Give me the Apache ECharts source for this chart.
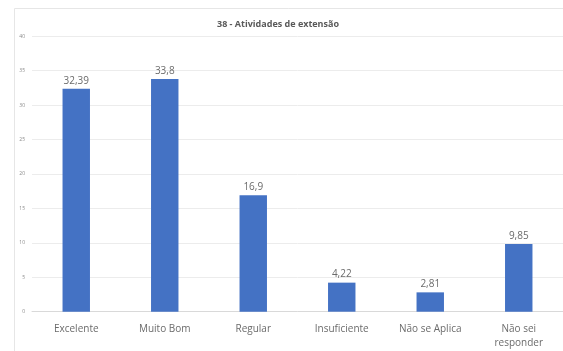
<!DOCTYPE html>
<html><head><meta charset="utf-8">
<script src="https://cdn.jsdelivr.net/npm/echarts@6/dist/echarts.min.js"></script>
<style>html,body{margin:0;padding:0;background:#fff}#c{width:563px;height:351px}</style>
</head><body><div id="c"></div>
<script>
const titleText = '38 - Atividades de extensão';
const categories = ['Excelente', 'Muito Bom', 'Regular', 'Insuficiente', 'Não se Aplica', 'Não sei\nresponder'];
const values = [32.39, 33.8, 16.9, 4.22, 2.81, 9.85];
const yTicks = [0, 5, 10, 15, 20, 25, 30, 35, 40];

const chart = echarts.init(document.getElementById('c'), null, {renderer: 'canvas'});
chart.setOption({
  animation: false,
  backgroundColor: '#fff',
  graphic: [
    {type: 'line', shape: {x1: 14.5, y1: 8.5, x2: 14.5, y2: 351}, style: {stroke: '#e6e6e6', lineWidth: 1}, silent: true},
    {type: 'line', shape: {x1: 14.5, y1: 8.5, x2: 563, y2: 8.5}, style: {stroke: '#e6e6e6', lineWidth: 1}, silent: true}
  ],
  title: {
    text: titleText, left: 273, top: 15, textAlign: 'center',
    textStyle: {fontFamily: 'Open Sans', fontSize: 9, fontWeight: 'bold', color: '#595959'}
  },
  grid: {left: 32, right: -1, top: 36.3, bottom: 351 - 311.7, containLabel: false},
  xAxis: {
    type: 'category', data: categories,
    axisLine: {lineStyle: {color: '#d9d9d9'}}, axisTick: {show: false},
    axisLabel: {fontFamily: 'Open Sans', fontSize: 10, color: '#6b6b6b', margin: 10, lineHeight: 14, interval: 0}
  },
  yAxis: {
    type: 'value', min: 0, max: 40, interval: 5,
    axisLine: {show: false}, axisTick: {show: false},
    splitLine: {lineStyle: {color: '#ececec'}},
    axisLabel: {fontFamily: 'Open Sans', fontSize: 5, color: '#8a8a8a', margin: 7,
      formatter: v => yTicks.includes(v) ? String(v) : ''}
  },
  series: [{
    type: 'bar', data: values, barWidth: '31%',
    itemStyle: {color: '#4472c4'},
    label: {show: true, position: 'top', distance: 3, fontFamily: 'Open Sans', fontSize: 10, color: '#6b6b6b',
      formatter: p => String(p.value).replace('.', ',')}
  }]
});
</script></body></html>
